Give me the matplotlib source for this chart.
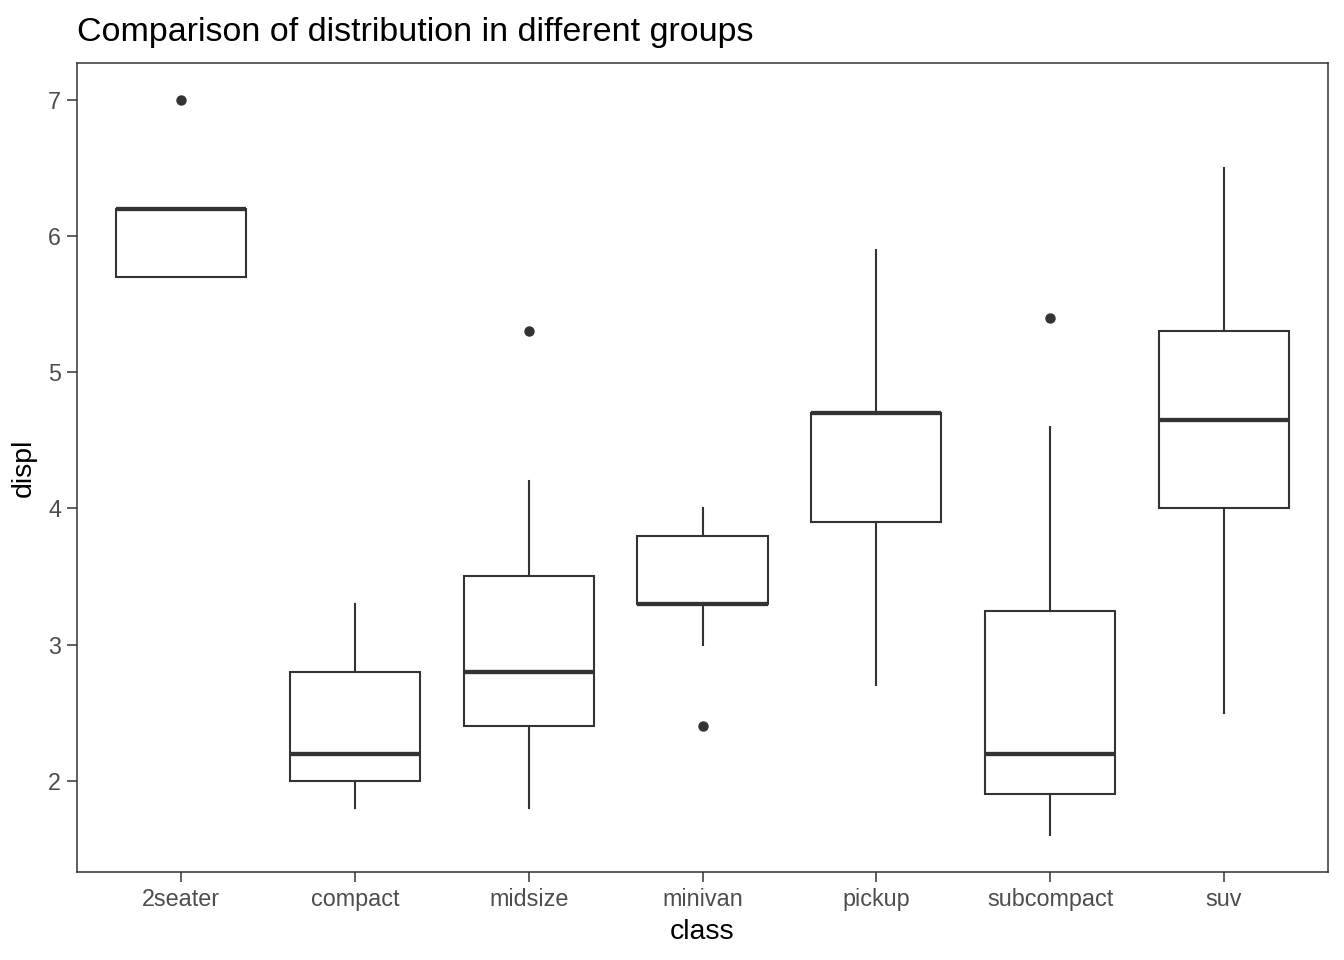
import matplotlib
matplotlib.use("Agg")
import matplotlib.pyplot as plt

plt.rcParams['font.family'] = ['Liberation Sans', 'DejaVu Sans']

# displ by class (mpg data), five-number summaries as drawn
classes = ["2seater", "compact", "midsize", "minivan", "pickup", "subcompact", "suv"]
q1 = [5.7, 2.0, 2.4, 3.3, 3.9, 1.9, 4.0]
med = [6.2, 2.2, 2.8, 3.3, 4.7, 2.2, 4.65]
q3 = [6.2, 2.8, 3.5, 3.8, 4.7, 3.25, 5.3]
whislo = [5.7, 1.8, 1.8, 3.0, 2.7, 1.6, 2.5]
whishi = [6.2, 3.3, 4.2, 4.0, 5.9, 4.6, 6.5]
outliers = [[7.0], [], [5.3], [2.4], [], [5.4], []]

stats = []
for i in range(len(classes)):
    stats.append({"label": classes[i], "q1": q1[i], "med": med[i], "q3": q3[i],
                  "whislo": whislo[i], "whishi": whishi[i], "fliers": outliers[i]})

grey20 = "#333333"
fig = plt.figure(figsize=(13.44, 9.6), dpi=100)
ax = fig.add_axes([77/1344, 1-872/960, (1328-77)/1344, (872-63)/960])

ax.bxp(stats, positions=range(1, 8), widths=0.75, patch_artist=True, showcaps=False,
       boxprops=dict(facecolor="white", edgecolor=grey20, linewidth=1.5),
       medianprops=dict(color=grey20, linewidth=3.1, solid_capstyle="butt"),
       whiskerprops=dict(color=grey20, linewidth=1.5),
       flierprops=dict(marker="o", markerfacecolor=grey20, markeredgecolor=grey20, markersize=6.5))

ax.set_xlim(0.4, 7.6)
ax.set_ylim(1.33, 7.27)
ax.set_yticks([2, 3, 4, 5, 6, 7])
ax.set_xticks(range(1, 8))
ax.set_xticklabels(classes)
for s in ax.spines.values():
    s.set_color(grey20)
    s.set_linewidth(1.1)
ax.tick_params(length=7, width=1.1, color=grey20, labelcolor="#4D4D4D", labelsize=16.8, pad=4.5)
ax.set_xlabel("class", fontsize=20.5, labelpad=6)
ax.set_ylabel("displ", fontsize=20.5, labelpad=8)
ax.set_title("Comparison of distribution in different groups", fontsize=24.5, loc="left", x=0, pad=16)

fig.savefig("out.png", dpi=100)
